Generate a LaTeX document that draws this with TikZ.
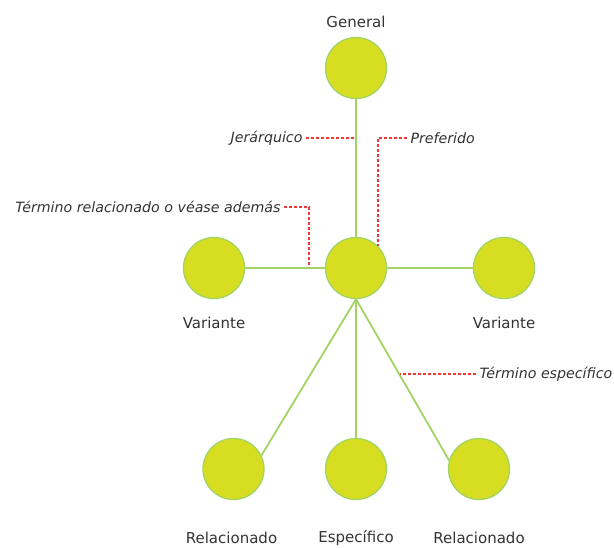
\documentclass[tikz,border=0pt]{standalone}
\usepackage{fontspec}
\setmainfont{DejaVu Sans}
\usepackage{tikz}
\usetikzlibrary{positioning}

\definecolor{termfill}{HTML}{D7DE22}
\definecolor{termline}{HTML}{A2D463}
\definecolor{notered}{HTML}{F53535}
\definecolor{labelgray}{HTML}{333333}

\begin{document}
\begin{tikzpicture}[x=1pt, y=-1pt, node distance=3cm, on grid,
    term/.style={circle, draw=termline, line width=1.3pt, fill=termfill,
                 minimum size=61pt, inner sep=0pt},
    rel/.style={draw=termline, line width=1.8pt},
    termname/.style={text=labelgray, font=\fontsize{15}{18}\selectfont},
    notetext/.style={text=labelgray, font=\fontsize{14.2}{17}\selectfont\itshape},
    nota/.style={draw=notered, line width=1.1pt, dash pattern=on 3pt off 2pt}]
   \useasboundingbox (0,0) rectangle (614,547);

   % terms
   \node[term] (cen) at (356,268) {};
   \node[term] (gen)  [above=200pt of cen] {};
   \node[term] (var1) [left=142pt of cen] {};
   \node[term] (var2) [right=148pt of cen] {};
   \node[term] (esp)  [below=201pt of cen] {};
   \node[term] (rel1) [left=122.5pt of esp] {};
   \node[term] (rel2) [right=123pt of esp] {};

   % names
   \node[termname] (lgen)  [above=46pt of gen] {General};
   \node[termname] (lvar1) [below=55pt of var1] {Variante};
   \node[termname] (lvar2) [below=55pt of var2] {Variante};
   \node[termname] (lesp)  [below=69pt of esp] {Específico};
   \node[termname] (lrel1) [below=69pt of rel1, xshift=-2pt] {Relacionado};
   \node[termname] (lrel2) [below=69pt of rel2] {Relacionado};

   \path[rel]
    (cen) edge (gen)
          edge (var1)
          edge (var2)
    (cen.south) edge (esp)
          edge (rel1.26)
          edge (rel2.164);

   % notes
   \node[notetext, anchor=east] (jer) at (306,138) {Jerárquico};
   \node[notetext, anchor=west] (pref) at (407,138) {Preferido};
   \node[notetext, anchor=east] (trel) at (284,207) {Término relacionado o véase además};
   \node[notetext, anchor=west] (tesp) at (476,374) {Término específico};

   \coordinate (pjer) at (354,138);
   \coordinate (pvar) at (309,267);
   \coordinate (pesp) at (400,374);

   \draw[nota] (jer) -- (pjer);
   \draw[nota] (pref) -| (cen.45);
   \draw[nota] (trel) -| (pvar);
   \draw[nota] (tesp) -- (pesp);
\end{tikzpicture}
\end{document}
